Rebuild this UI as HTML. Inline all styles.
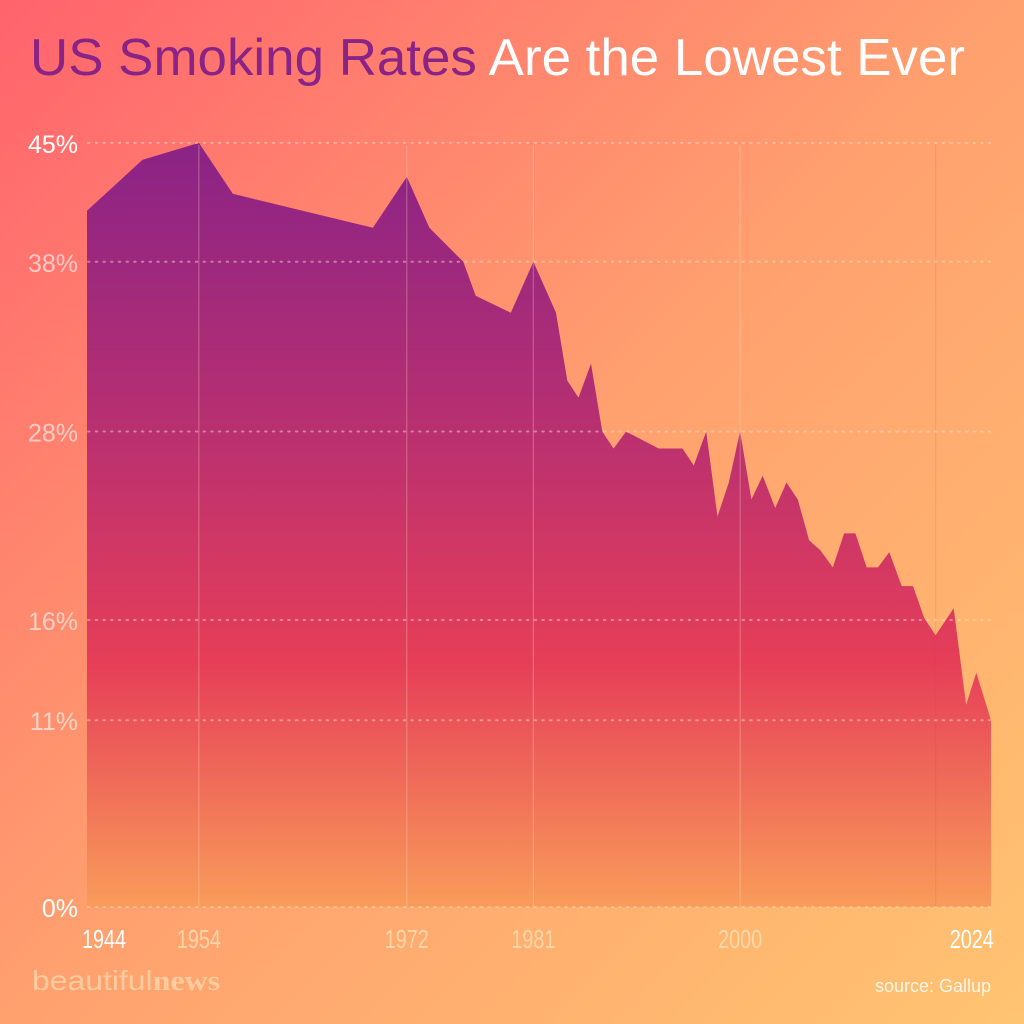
<!DOCTYPE html>
<html><head><meta charset="utf-8"><style>
html,body{margin:0;padding:0;width:1024px;height:1024px;overflow:hidden}
svg{display:block}
</style></head><body>
<svg id="chart" width="1024" height="1024" viewBox="0 0 1024 1024" xmlns="http://www.w3.org/2000/svg">
<defs>
<linearGradient id="bg" x1="0" y1="0" x2="1" y2="1">
<stop offset="0" stop-color="#ff636d"/><stop offset="0.5" stop-color="#ffa06f"/><stop offset="1" stop-color="#ffc471"/>
</linearGradient>
<linearGradient id="area" gradientUnits="userSpaceOnUse" x1="0" y1="143" x2="0" y2="907">
<stop offset="0" stop-color="#8a2386"/><stop offset="0.35" stop-color="#b52f72"/><stop offset="0.68" stop-color="#e63e58"/><stop offset="1" stop-color="#f99c5a"/>
</linearGradient>
</defs>
<rect width="1024" height="1024" fill="url(#bg)"/>
<text x="30" y="75" textLength="935" lengthAdjust="spacingAndGlyphs" font-family="Liberation Sans, sans-serif" font-size="52"><tspan fill="#8a2386">US Smoking Rates</tspan><tspan fill="#ffffff"> Are the Lowest Ever</tspan></text>
<path id="areaPath" fill="url(#area)"/>
<g id="vlines"></g>
<g id="grid"></g>
<g id="labels"></g>
<text x="32" y="990" font-family="Liberation Sans, sans-serif" font-size="28" fill="#ffd3a8" opacity="0.85" textLength="188" lengthAdjust="spacingAndGlyphs">beautiful<tspan font-family="Liberation Serif, serif" font-weight="bold">news</tspan></text>
<text x="991" y="992" text-anchor="end" font-family="Liberation Sans, sans-serif" font-size="18" fill="#fff6e8">source: Gallup</text>
</svg>
<script>
const years = [1944,1948.9,1953.9,1956.9,1969.3,1972.3,1974.3,1977.3,1978.4,1981.5,1983.5,1985.5,1986.5,1987.5,1988.6,1989.6,1990.6,1991.7,1994.6,1996.7,1997.7,1998.8,1999.8,2000.8,2001.8,2002.8,2003.8,2004.9,2005.9,2006.9,2007.9,2008.9,2010,2011,2012,2013,2014,2015,2016.1,2017.1,2018.1,2019.1,2020.7,2021.8,2022.7,2024];
const rates = [41,44,45,42,40,43,40,38,36,35,38,35,31,30,32,28,27,28,27,27,26,28,23,25,28,24,25.4,23.5,25,24,21.6,21,20,22,22,20,20,20.9,18.9,18.9,17,16,17.6,11.9,13.8,11];
const yTickValues = [45,38,28,16.9,11,0];
const yTickLabels = ["45%","38%","28%","16%","11%","0%"];
const xGridYears = [1953.9,1972.3,1983.5,2001.8,2019.1];
const xTickYears = [1945.5,1953.9,1972.3,1983.5,2001.8,2022.3];
const xTickLabels = ["1944","1954","1972","1981","2000","2024"];

const NS="http://www.w3.org/2000/svg";
const X0=87,X1=991,Y0=907,PX=16.98;
const xs=y=>X0+(y-1944)/(2024-1944)*(X1-X0);
const ys=v=>Y0-v*PX;
function mk(t,a,p){const e=document.createElementNS(NS,t);for(const k in a)e.setAttribute(k,a[k]);p.appendChild(e);return e;}

let d="M"+xs(years[0])+","+Y0;
years.forEach((y,i)=>{d+=" L"+xs(y).toFixed(1)+","+ys(rates[i]).toFixed(1);});
d+=" L"+xs(years[years.length-1])+","+Y0+" Z";
document.getElementById('areaPath').setAttribute('d',d);

const grid=document.getElementById('grid');
yTickValues.forEach((v,i)=>{
  const l=mk('line',{x1:88,x2:990,y1:ys(v),y2:ys(v),stroke:'#ffe6d6','stroke-opacity':0.45,'stroke-width':2,'stroke-dasharray':'1.5 6.2','stroke-linecap':'round'},grid);
  
  
});
const vl=document.getElementById('vlines');
xGridYears.forEach((y,i)=>{
  const l=mk('line',{x1:xs(y),x2:xs(y),y1:ys(45)+2,y2:Y0,stroke:i==4?'#c8404f':'#ffd9c0','stroke-opacity':i==4?0.15:0.3,'stroke-width':1.2},vl);
  
  
});
const lab=document.getElementById('labels');
yTickValues.forEach((v,i)=>{
  const t=mk('text',{x:78,y:ys(v)+10,'text-anchor':'end','font-family':'Liberation Sans Narrow, Liberation Sans, sans-serif','font-size':25,fill:'#ffffff','fill-opacity':(i==0||i==5)?1:0.6},lab);
  t.textContent=yTickLabels[i];
  
  
});
xTickLabels.forEach((s,i)=>{
  const bright=(i==0||i==5);
  const t=mk('text',{x:xs(xTickYears[i]),y:948,'text-anchor':'middle','font-family':'Liberation Sans Narrow, Liberation Sans, sans-serif','font-size':26,fill:bright?'#ffffff':'#ffe0b8','fill-opacity':bright?1:0.8,textLength:44,lengthAdjust:'spacingAndGlyphs'},lab);
  t.textContent=s;
  
  
});
</script>
</body></html>
